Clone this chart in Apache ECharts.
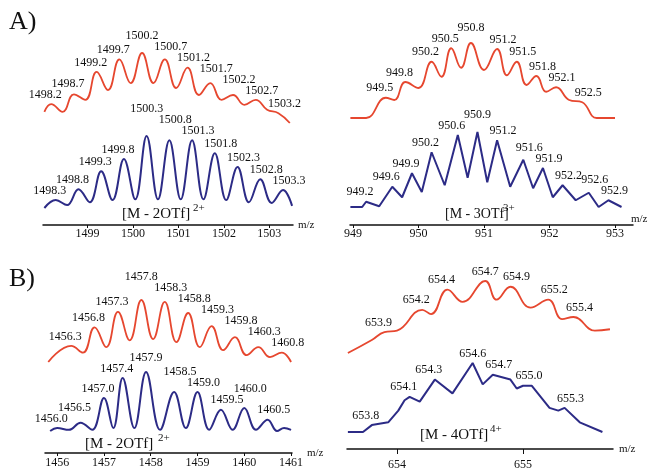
<!DOCTYPE html>
<html><head><meta charset="utf-8">
<script src="https://cdn.jsdelivr.net/npm/echarts@6/dist/echarts.min.js"></script>
<style>html,body{margin:0;padding:0;background:#fff}#c{width:652px;height:471px}</style>
</head><body><div id="c"></div>
<script>
// ---- data: [m/z, relative intensity %, peak label] ----
const aLeftTicks = [1499, 1500, 1501, 1502, 1503];
const aLeftRed = [[1498.05,16],[1498.2,27,'1498.2'],[1498.45,16],[1498.7,41,'1498.7'],[1498.95,33],[1499.2,73,'1499.2'],[1499.45,47],[1499.7,91,'1499.7'],[1499.95,57],[1500.2,100,'1500.2'],[1500.45,57],[1500.7,91,'1500.7'],[1500.95,50],[1501.2,79,'1501.2'],[1501.45,40],[1501.7,57,'1501.7'],[1501.95,33],[1502.2,40,'1502.2'],[1502.45,26],[1502.7,33,'1502.7'],[1502.95,19],[1503.2,14,'1503.2'],[1503.45,0]];
const aLeftBlue = [[1498.05,0],[1498.3,11,'1498.3'],[1498.55,4],[1498.8,26,'1498.8'],[1499.05,8],[1499.3,51,'1499.3'],[1499.55,11],[1499.8,68,'1499.8'],[1500.05,12],[1500.3,100,'1500.3'],[1500.55,12],[1500.8,94,'1500.8'],[1501.05,12],[1501.3,94,'1501.3'],[1501.55,12],[1501.8,76,'1501.8'],[1502.05,11],[1502.3,57,'1502.3'],[1502.55,8],[1502.8,40,'1502.8'],[1503.05,7],[1503.3,25,'1503.3'],[1503.5,3]];

const aRightTicks = [949, 950, 951, 952, 953];
const aRightRed = [[948.96,0],[949.2,0],[949.5,27,'949.5'],[949.63,24],[949.8,48,'949.8'],[950.0,40],[950.2,75,'950.2'],[950.35,55],[950.5,93,'950.5'],[950.65,67],[950.8,100,'950.8'],[951.0,64],[951.2,92,'951.2'],[951.35,57],[951.5,75,'951.5'],[951.65,44],[951.8,56,'951.8'],[951.95,35],[952.1,41,'952.1'],[952.3,24],[952.5,21,'952.5'],[952.72,0],[953.0,0]];
const aRightBlue = [[948.96,0],[949.14,0],[949.2,7,'949.2'],[949.4,1],[949.6,27,'949.6'],[949.75,13],[949.9,45,'949.9'],[950.05,20],[950.2,73,'950.2'],[950.4,29],[950.6,96,'950.6'],[950.75,39],[950.9,100,'950.9'],[951.05,33],[951.2,89,'951.2'],[951.4,27],[951.6,63,'951.6'],[951.75,25],[951.9,52,'951.9'],[952.05,13],[952.2,29,'952.2'],[952.4,9],[952.6,19,'952.6'],[952.75,0],[952.9,9,'952.9'],[953.1,0]];

const bLeftTicks = [1456, 1457, 1458, 1459, 1460, 1461];
const bLeftRed = [[1455.81,0],[1456.3,26,'1456.3'],[1456.55,15],[1456.8,56,'1456.8'],[1457.05,24],[1457.3,81,'1457.3'],[1457.55,35],[1457.8,100,'1457.8'],[1458.05,37],[1458.3,97,'1458.3'],[1458.55,32],[1458.8,79,'1458.8'],[1459.05,24],[1459.3,58,'1459.3'],[1459.55,19],[1459.8,40,'1459.8'],[1460.05,11],[1460.3,24,'1460.3'],[1460.55,8],[1460.8,15,'1460.8'],[1461.0,0]];
const bLeftBlue = [[1455.85,0],[1456.0,5,'1456.0'],[1456.25,2],[1456.5,14,'1456.5'],[1456.75,2],[1457.0,56,'1457.0'],[1457.2,5],[1457.4,90,'1457.4'],[1457.65,5],[1457.9,100,'1457.9'],[1458.2,2],[1458.5,66,'1458.5'],[1458.75,5],[1459.0,66,'1459.0'],[1459.25,2],[1459.5,36,'1459.5'],[1459.75,2],[1460.0,39,'1460.0'],[1460.25,2],[1460.5,19,'1460.5'],[1460.7,0],[1460.85,5],[1461.0,2]];

const bRightTicks = [654, 655];
const bRightRed = [[653.61,0],[653.8,18],[653.9,29,'653.9'],[654.0,31],[654.2,60,'654.2'],[654.27,54],[654.4,88,'654.4'],[654.52,71],[654.7,100,'654.7'],[654.79,74],[654.9,92,'654.9'],[655.06,63],[655.2,74,'655.2'],[655.31,47],[655.4,50,'655.4'],[655.57,31],[655.69,33]];
const bRightBlue = [[653.61,0],[653.73,0],[653.8,10,'653.8'],[653.93,14],[654.01,31],[654.06,46],[654.1,51,'654.1'],[654.18,44],[654.3,76,'654.3'],[654.44,56],[654.6,100,'654.6'],[654.68,69],[654.76,83,'654.7'],[654.9,76],[654.95,63],[655.0,67,'655.0'],[655.07,67],[655.21,35],[655.28,31],[655.33,35,'655.3'],[655.45,14],[655.63,0]];

const ionLabels = ['[M - 2OTf]', '[M - 3OTf]', '[M - 2OTf]', '[M - 4OTf]'];
const ionCharges = ['2+', '3+', '2+', '4+'];
const panelTags = ['A)', 'B)'];

// ---- layout / style ----
const FONT = '"Liberation Serif", "DejaVu Serif", serif';
const RED = '#e6472f', BLUE = '#2c2b86', INK = '#111';
const LABEL_SIZE = 12, LABEL_DIST = 3, LABEL_DX = 6;

const panels = [
  {ticks: aLeftTicks, min: 1498.02, max: 1503.52, x0: 43, x1: 293, red: aLeftRed, blue: aLeftBlue,
   redBox: [53, 123], blueBox: [136, 208], axisY: 225, blueSmooth: 0.4, nameGap: 5, nameVA: 'middle', labMargin: 3, tickLen: 3},
  {ticks: aRightTicks, min: 948.954, max: 953.275, x0: 350, x1: 633, red: aRightRed, blue: aRightBlue,
   redBox: [43, 118], blueBox: [132, 207], axisY: 225, blueSmooth: false, nameGap: -2, nameVA: 'bottom', labMargin: 3, tickLen: 3},
  {ticks: bLeftTicks, min: 1455.74, max: 1461.02, x0: 45, x1: 292, red: bLeftRed, blue: bLeftBlue,
   redBox: [300, 362], blueBox: [372, 431], axisY: 453, blueSmooth: 0.4, nameGap: 9, nameVA: 'middle', labMargin: 4, tickLen: 3},
  {ticks: bRightTicks, min: 653.603, max: 655.714, x0: 347, x1: 613, red: bRightRed, blue: bRightBlue,
   redBox: [281, 353], blueBox: [363, 435], axisY: 452, blueSmooth: false, nameGap: 6, nameVA: 'middle', labMargin: 10, tickLen: 5}
];

function toSeriesData(arr) {
  let maxM = arr[0][0], maxV = -1;
  arr.forEach(p => { if (p[1] > maxV) { maxV = p[1]; maxM = p[0]; } });
  return arr.map(p => {
    if (!p[2]) return [p[0], p[1]];
    const dx = p[0] < maxM - 1e-6 ? -LABEL_DX : (p[0] > maxM + 1e-6 ? LABEL_DX : 0);
    return {value: [p[0], p[1]], label: {show: true, formatter: p[2], offset: [dx, 0]}};
  });
}

const grids = [], xAxes = [], yAxes = [], series = [];
panels.forEach((P, i) => {
  [['red', P.redBox], ['blue', P.blueBox]].forEach(([kind, box]) => {
    const gi = grids.length;
    grids.push({left: P.x0, width: P.x1 - P.x0, top: box[0], height: box[1] - box[0]});
    yAxes.push({gridIndex: gi, type: 'value', min: 0, max: 100, show: false});
    if (kind === 'red') {
      xAxes.push({gridIndex: gi, type: 'value', min: P.min, max: P.max, show: false});
    } else {
      xAxes.push({
        gridIndex: gi, type: 'value', min: P.min, max: P.max, position: 'bottom',
        offset: P.axisY - box[1],
        axisLine: {show: true, onZero: false, lineStyle: {color: INK, width: 1.5}},
        axisTick: {show: true, length: P.tickLen, customValues: P.ticks, lineStyle: {color: INK, width: 1}},
        axisLabel: {customValues: P.ticks, formatter: v => String(v), fontFamily: FONT, fontSize: 12, color: INK, margin: P.labMargin},
        splitLine: {show: false},
        name: 'm/z', nameLocation: 'end', nameGap: P.nameGap,
        nameTextStyle: {fontFamily: FONT, fontSize: 11, color: INK, verticalAlign: P.nameVA}
      });
    }
    series.push({
      type: 'line', xAxisIndex: gi, yAxisIndex: gi,
      data: toSeriesData(P[kind]),
      smooth: kind === 'red' ? 0.45 : P.blueSmooth,
      symbol: 'circle', symbolSize: 1, showSymbol: true, showAllSymbol: true,
      itemStyle: {color: 'rgba(0,0,0,0)', borderWidth: 0},
      lineStyle: {color: kind === 'red' ? RED : BLUE, width: kind === 'red' ? 1.8 : 2},
      label: {show: false, position: 'top', distance: LABEL_DIST, fontFamily: FONT, fontSize: LABEL_SIZE, color: INK},
      clip: false, silent: true, animation: false
    });
  });
});

const ionPos = [[122, 207, 193, 203], [445, 207, 503, 203], [85, 437, 158, 433], [420, 428, 490, 424]];
const graphic = [
  {type: 'text', x: 9, y: 9, style: {text: panelTags[0], font: '26px ' + FONT, fill: INK, verticalAlign: 'top'}},
  {type: 'text', x: 9, y: 266, style: {text: panelTags[1], font: '26px ' + FONT, fill: INK, verticalAlign: 'top'}}
];
ionLabels.forEach((t, i) => {
  const p = ionPos[i];
  graphic.push({type: 'text', x: p[0], y: p[1], style: {text: t, font: (i === 1 ? '14px ' : '15px ') + FONT, fill: INK, verticalAlign: 'top'}});
  graphic.push({type: 'text', x: p[2], y: p[3], style: {text: ionCharges[i], font: '11px ' + FONT, fill: INK, verticalAlign: 'top'}});
});

const chart = echarts.init(document.getElementById('c'), null, {renderer: 'canvas'});
chart.setOption({
  backgroundColor: '#fff', animation: false,
  grid: grids, xAxis: xAxes, yAxis: yAxes, series: series, graphic: graphic
});

// stagger peak labels: lower peaks keep their place, a higher peak whose label
// would collide with an already placed one is lifted above it
(function staggerLabels() {
  const ctx = document.createElement('canvas').getContext('2d');
  ctx.font = LABEL_SIZE + 'px ' + FONT;
  const INK_H = 9;
  series.forEach((s, gi) => {
    const items = [];
    s.data.forEach(d => {
      if (!d.label) return;
      const pt = chart.convertToPixel({gridIndex: gi}, d.value);
      if (!pt) return;
      items.push({d, x: pt[0], y: pt[1], w: ctx.measureText(d.label.formatter).width});
    });
    items.sort((a, b) => (b.y - a.y) || (b.x - a.x));
    const placed = [];
    items.forEach(it => {
      const cx = it.x + it.d.label.offset[0];
      const top0 = it.y - LABEL_DIST - 3.5 - INK_H;
      let top = top0;
      for (let iter = 0; iter < 20; iter++) {
        let moved = false;
        for (const q of placed) {
          const hx = Math.abs(cx - q.cx) < (it.w + q.w) / 2 - 1;
          const vy = top < q.top + INK_H + 1 && q.top < top + INK_H + 1;
          if (hx && vy) { top = Math.min(top, q.top - INK_H - 2); moved = true; }
        }
        if (!moved) break;
      }
      placed.push({cx, w: it.w, top});
      it.d.label.offset = [it.d.label.offset[0], top - top0];
    });
  });
  chart.setOption({series: series.map(s => ({data: s.data}))});
})();
</script></body></html>
